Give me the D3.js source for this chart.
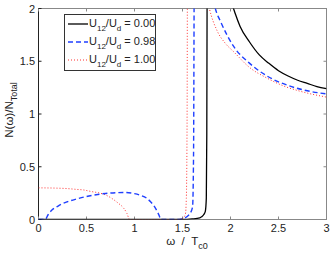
<!DOCTYPE html>
<html><head><meta charset="utf-8">
<script src="https://cdn.jsdelivr.net/npm/d3@7/dist/d3.min.js"></script>
<style>html,body{margin:0;padding:0;background:#fff;}svg{display:block;font-family:"Liberation Sans",Arial,sans-serif;}</style>
</head><body>
<svg id="c" width="332" height="255"></svg>
<script>
// ---- data ----
const xTicks = [0, 0.5, 1, 1.5, 2, 2.5, 3];
const yTicks = [0, 0.5, 1, 1.5, 2];
const xTickLabels = ["0", "0.5", "1", "1.5", "2", "2.5", "3"];
const yTickLabels = ["0", "0.5", "1", "1.5", "2"];
const seriesNames = ["0.00", "0.98", "1.00"];

const omega0 = [0, 1.5, 1.6, 1.68, 1.70, 1.72, 1.737, 1.748, 1.753, 1.757, 1.77, 1.8, 1.9, 2.0, 2.05, 2.1, 2.2, 2.3, 2.4, 2.5, 2.6, 2.7, 2.8, 2.9, 3.0];
const dos0   = [0, 0,   0.005, 0.015, 0.027, 0.045, 0.074, 0.2, 0.8, 2.5, 6, 4.8, 2.65, 2.1, 1.95, 1.83, 1.68, 1.56, 1.48, 1.41, 1.36, 1.32, 1.29, 1.26, 1.24];

const omega98 = [0, 0.07, 0.1, 0.14, 0.2, 0.25, 0.3, 0.4, 0.5, 0.6, 0.7, 0.8, 0.9, 1.0, 1.06, 1.13, 1.17, 1.21, 1.24, 1.26, 1.27, 1.45, 1.51, 1.58, 1.605, 1.615, 1.625, 1.65, 1.7, 1.8, 1.842, 1.9, 2.033, 2.2, 2.381, 2.6, 2.8, 3.0];
const dos98   = [0, 0,    0.045, 0.09, 0.125, 0.15, 0.168, 0.195, 0.218, 0.235, 0.247, 0.254, 0.256, 0.245, 0.23, 0.2, 0.165, 0.12, 0.07, 0.03, 0, 0, 0.01, 0.06, 0.12, 0.6, 3, 4.1, 2.96, 2.18, 2.0, 1.87, 1.64, 1.48, 1.36, 1.27, 1.22, 1.19];

const omega100 = [0, 0.1, 0.2, 0.3, 0.4, 0.47, 0.55, 0.64, 0.7, 0.78, 0.83, 0.885, 0.92, 0.95, 1.45, 1.5, 1.53, 1.54, 1.548, 1.555, 1.6, 1.7, 1.78, 1.86, 1.946, 2.033, 2.2, 2.381, 2.555, 2.729, 3.0];
const dos100   = [0.30, 0.299, 0.297, 0.293, 0.285, 0.28, 0.265, 0.25, 0.232, 0.19, 0.155, 0.11, 0.06, 0, 0, 0.01, 0.05, 0.2, 1, 4, 3.7, 2.4, 2.0, 1.79, 1.67, 1.59, 1.44, 1.34, 1.265, 1.215, 1.16];

// ---- layout ----
const L = 38.5, R = 326.5, T = 8.5, B = 219.5;
const svg = d3.select("#c");
const x = d3.scaleLinear().domain([0, 3]).range([L, R]);
const y = d3.scaleLinear().domain([0, 2]).range([B, T]);

svg.append("defs").append("clipPath").attr("id", "clip")
  .append("rect").attr("x", L).attr("y", T).attr("width", R - L).attr("height", B - T);

// axes box
const axisCol = "#888";
svg.append("rect").attr("x", L).attr("y", T).attr("width", R - L).attr("height", B - T)
  .attr("fill", "none").attr("stroke", axisCol).attr("stroke-width", 1);
svg.append("line").attr("x1", L).attr("x2", L).attr("y1", T).attr("y2", B).attr("stroke", "#222");

// ticks (inward) on all sides
const tl = 3;
xTicks.forEach(v => {
  svg.append("line").attr("x1", x(v)).attr("x2", x(v)).attr("y1", B).attr("y2", B - tl).attr("stroke", axisCol);
  svg.append("line").attr("x1", x(v)).attr("x2", x(v)).attr("y1", T).attr("y2", T + tl).attr("stroke", axisCol);
});
yTicks.forEach(v => {
  svg.append("line").attr("x1", L).attr("x2", L + tl).attr("y1", y(v)).attr("y2", y(v)).attr("stroke", "#222");
  svg.append("line").attr("x1", R).attr("x2", R - tl).attr("y1", y(v)).attr("y2", y(v)).attr("stroke", axisCol);
});

// tick labels
svg.append("g").selectAll("text").data(xTicks).join("text")
  .attr("x", d => x(d)).attr("y", 232).attr("text-anchor", "middle")
  .attr("font-size", 11).attr("fill", "#222").text((d, i) => xTickLabels[i]);
svg.append("g").selectAll("text").data(yTicks).join("text")
  .attr("x", 35).attr("y", d => y(d) + 4).attr("text-anchor", "end")
  .attr("font-size", 11).attr("fill", "#222").text((d, i) => yTickLabels[i]);

// axis labels
const xl = svg.append("text").attr("x", 187).attr("y", 245).attr("text-anchor", "middle")
  .attr("font-size", 11.5).attr("fill", "#222").attr("xml:space", "preserve");
xl.append("tspan").text("ω  /  T");
xl.append("tspan").attr("dy", 4).attr("font-size", 9).text("c0");

const yl = svg.append("text").attr("transform", "translate(13,110) rotate(-90)")
  .attr("text-anchor", "middle").attr("font-size", 11.5).attr("fill", "#222");
yl.append("tspan").text("N(ω)/N");
yl.append("tspan").attr("dy", 4).attr("font-size", 9).text("Total");

// lines
const line = d3.line().x(d => x(d[0])).y(d => y(d[1])).curve(d3.curveMonotoneX);
const g = svg.append("g").attr("clip-path", "url(#clip)");
const styles = [
  {col: "#000", w: 1.3, dash: null},
  {col: "#1f3fff", w: 1.4, dash: "5,3"},
  {col: "#ff3030", w: 1, dash: "1,2"}
];
const sets = [d3.zip(omega0, dos0), d3.zip(omega98, dos98), d3.zip(omega100, dos100)];
[2, 1, 0].forEach(i => {
  g.append("path").datum(sets[i]).attr("d", line).attr("fill", "none")
    .attr("stroke", styles[i].col).attr("stroke-width", styles[i].w)
    .attr("stroke-dasharray", styles[i].dash);
});

// legend
const lx = 64.5, ly = 14.5, lw = 91, lh = 56;
svg.append("rect").attr("x", lx).attr("y", ly).attr("width", lw).attr("height", lh)
  .attr("fill", "#fff").attr("stroke", "#333").attr("stroke-width", 1);
seriesNames.forEach((nm, i) => {
  const yy = 24 + i * 18;
  svg.append("line").attr("x1", 68).attr("x2", 88).attr("y1", yy).attr("y2", yy)
    .attr("stroke", styles[i].col).attr("stroke-width", styles[i].w)
    .attr("stroke-dasharray", styles[i].dash);
  const t = svg.append("text").attr("x", 89).attr("y", yy + 3).attr("font-size", 11).attr("fill", "#222");
  t.append("tspan").text("U");
  t.append("tspan").attr("dy", 4).attr("font-size", 8).text("12");
  t.append("tspan").attr("dy", -4).text("/U");
  t.append("tspan").attr("dy", 4).attr("font-size", 8).text("d");
  t.append("tspan").attr("dy", -4).text(" = " + nm);
});
</script>
</body></html>
